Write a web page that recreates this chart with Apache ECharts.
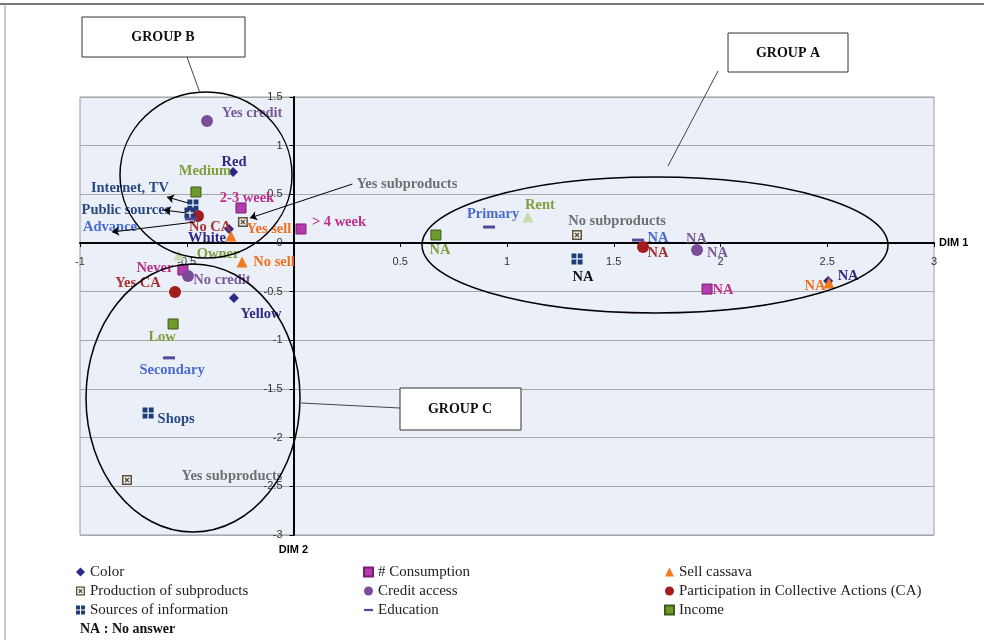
<!DOCTYPE html>
<html>
<head>
<meta charset="utf-8">
<title>MCA map</title>
<script src="https://cdn.jsdelivr.net/npm/echarts@6/dist/echarts.min.js"></script>
<style>
html,body{margin:0;padding:0;background:#fff;}
#main{width:984px;height:640px;}
</style>
</head>
<body>
<div id="main"></div>
<script>
// points: [DIM 1, DIM 2, label]
var colorPts       = [[-0.283, 0.73, 'Red'], [-0.302, 0.144, 'White'], [-0.279, -0.565, 'Yellow'], [2.504, -0.39, 'NA']];
var consumptionPts = [[-0.246, 0.36, '2-3 week'], [0.035, 0.144, '> 4 week'], [-0.518, -0.277, 'Never'], [1.937, -0.473, 'NA']];
var sellPts        = [[-0.293, 0.072, 'Yes sell'], [-0.241, -0.195, 'No sell'], [2.508, -0.41, 'NA']];
var subproductPts  = [[-0.237, 0.216, 'Yes subproducts'], [1.328, 0.082, 'No subproducts'], [-0.78, -2.435, 'Yes subproducts']];
var creditPts      = [[-0.405, 1.253, 'Yes credit'], [-0.494, -0.339, 'No credit'], [1.89, -0.072, 'NA']];
var caPts          = [[-0.447, 0.277, 'No CA'], [-0.555, -0.503, 'Yes CA'], [1.637, -0.041, 'NA']];
var sourcePts      = [[-0.471, 0.39, 'Internet, TV'], [-0.485, 0.308, 'Public sources'], [-0.681, -1.747, 'Shops'], [1.328, -0.164, 'NA']];
var educationPts   = [[0.916, 0.164, 'Primary'], [-0.583, -1.18, 'Secondary'], [1.614, 0.03, 'NA'], [-0.48, 0.247, 'Advance']];
var incomePts      = [[-0.457, 0.524, 'Medium'], [-0.564, -0.832, 'Low'], [0.667, 0.082, 'NA']];
var housingPts     = [[-0.536, -0.123, 'Owner'], [1.098, 0.267, 'Rent']];

// label offsets in px (label centre minus point)
var colorOff       = [[1, -10], [-22, 9], [27, 16], [20, -5]];
var consumptionOff = [[6, -10], [38, -7], [-28, -2], [16, 1]];
var sellOff        = [[38, -7], [32, 0], [-14, 3]];
var subproductOff  = [[164, -38], [40, -14], [105, -4]];
var creditOff      = [[45, -8], [34, 4], [10, -4]];
var caOff          = [[12, 11], [-37, -9], [15, 6]];
var sourceOff      = [[-63, -17], [-64, -3], [28, 6], [6, 18]];
var educationOff   = [[4, -13], [3, 12], [20, -2], [-81, 8]];
var incomeOff      = [[9, -21], [-11, 13], [4, 15]];
var housingOff     = [[39, -1], [12, -12]];

var SERIF = '"Liberation Serif", "Times New Roman", serif';
var SANS = '"Liberation Sans", Arial, sans-serif';
var LABEL_SIZE = 14.5;

var crossBox = 'path://M0,0L10,0L10,10L0,10Z M1.5,1.5L1.5,8.5L8.5,8.5L8.5,1.5Z M2.5,3.5L3.5,2.5L5,4L6.5,2.5L7.5,3.5L6,5L7.5,6.5L6.5,7.5L5,6L3.5,7.5L2.5,6.5L4,5Z';
var fourBox = 'path://M0,0H4.4V4.4H0Z M5.6,0H10V4.4H5.6Z M0,5.6H4.4V10H0Z M5.6,5.6H10V10H5.6Z';
var dash = 'path://M0,0H10V2.5H0Z';

function makeSeries(name, pts, offs, symbol, size, color, labelColor, border) {
    return {
        name: name,
        type: 'scatter',
        symbol: symbol,
        symbolSize: size,
        itemStyle: {color: color, borderColor: border || color, borderWidth: border ? 1 : 0, opacity: 1},
        label: {
            show: true,
            position: 'inside',
            formatter: '{b}',
            color: labelColor,
            fontFamily: SERIF,
            fontWeight: 'bold',
            fontSize: LABEL_SIZE
        },
        data: pts.map(function (p, i) {
            return {value: [p[0], p[1]], name: p[2], label: {offset: offs[i]}};
        }),
        z: 3
    };
}

function arrows(list) {
    return {
        silent: true,
        symbol: ['none', 'arrow'],
        symbolSize: 7,
        lineStyle: {color: '#000', width: 1, type: 'solid'},
        label: {show: false},
        data: list.map(function (a) {
            return [{coord: a[0]}, {coord: a[1]}];
        })
    };
}

window.onload = function () {
    var chart = echarts.init(document.getElementById('main'));

    var sColor = makeSeries('Color', colorPts, colorOff, 'diamond', 10, '#2b2a8a', '#2e2a80');
    var sCons = makeSeries('# Consumption', consumptionPts, consumptionOff, 'rect', 10, '#b53cad', '#c0308c', '#7a1f70');
    var sSell = makeSeries('Sell cassava', sellPts, sellOff, 'triangle', 11, '#f07a20', '#f07020');
    var sSub = makeSeries('Production of subproducts', subproductPts, subproductOff, crossBox, 10, '#5f5234', '#707070');
    var sCredit = makeSeries('Credit access', creditPts, creditOff, 'circle', 12, '#7b4c98', '#7a5a98');
    var sCA = makeSeries('Participation in Collective Actions (CA)', caPts, caOff, 'circle', 12, '#a51c1c', '#a83030');
    var sSrc = makeSeries('Sources of information', sourcePts, sourceOff, fourBox, 11, '#1f3c78', '#2a4a82');
    var sEdu = makeSeries('Education', educationPts, educationOff, dash, [12, 3], '#54489c', '#4a6ad0');
    var sInc = makeSeries('Income', incomePts, incomeOff, 'rect', 10, '#6e9a2e', '#80a040', '#3d5a18');
    var sHouse = makeSeries('Housing', housingPts, housingOff, 'triangle', 11, '#c8ddb0', '#80a040');

    // NA source label is black
    sSrc.data[3].label.color = '#111';
    // two NA tags around the credit NA point
    var naStyle = {lineHeight: 14, fontFamily: SERIF, fontWeight: 'bold', fontSize: LABEL_SIZE, color: '#7a5a98'};
    sCredit.data[2].label.formatter = '{a|NA}\n{b|NA}';
    sCredit.data[2].label.rich = {
        a: Object.assign({width: 42, align: 'left'}, naStyle),
        b: Object.assign({width: 42, align: 'right'}, naStyle)
    };

    sSub.markLine = arrows([[[0.276, 0.606], [-0.204, 0.257]]]);
    sSrc.markLine = arrows([[[-0.494, 0.411], [-0.593, 0.473]], [[-0.499, 0.308], [-0.607, 0.339]]]);
    sEdu.markLine = arrows([[[-0.461, 0.216], [-0.85, 0.113]]]);

    var legendBase = {
        orient: 'vertical',
        top: 564,
        padding: 0,
        itemWidth: 9,
        itemHeight: 9,
        itemGap: 3,
        selectedMode: false,
        textStyle: {fontFamily: SERIF, fontSize: 15, color: '#222', lineHeight: 16}
    };

    // grid: 854 x 438 px, the axes cross at (0, 0)
    var option = {
        animation: false,
        backgroundColor: '#fff',
        grid: {
            left: 80, top: 97, width: 854, height: 438,
            show: true, backgroundColor: '#eaeff8', borderColor: '#9a9a9a', borderWidth: 1
        },
        legend: [
            Object.assign({}, legendBase, {left: 76, data: ['Color', 'Production of subproducts', 'Sources of information']}),
            Object.assign({}, legendBase, {left: 363, data: ['# Consumption', 'Credit access', 'Education']}),
            Object.assign({}, legendBase, {left: 664, data: ['Sell cassava', 'Participation in Collective Actions (CA)', 'Income']})
        ],
        xAxis: {
            type: 'value', min: -1, max: 3, interval: 0.5,
            position: 'bottom', offset: -292,
            name: 'DIM 1', nameLocation: 'end', nameGap: 5,
            nameTextStyle: {fontFamily: SANS, fontWeight: 'bold', fontSize: 11, color: '#000'},
            axisLine: {onZero: false, lineStyle: {color: '#000', width: 2}},
            axisTick: {show: true, length: 4, lineStyle: {color: '#000'}},
            axisLabel: {
                fontFamily: SANS, fontSize: 11, color: '#333', margin: 13,
                formatter: function (v) { return v === 0 ? '' : v; }
            },
            splitLine: {show: false}
        },
        yAxis: {
            type: 'value', min: -3, max: 1.5, interval: 0.5,
            position: 'left', offset: -213.5,
            name: 'DIM 2', nameLocation: 'start', nameGap: 9,
            nameTextStyle: {fontFamily: SANS, fontWeight: 'bold', fontSize: 11, color: '#000'},
            axisLine: {onZero: false, lineStyle: {color: '#000', width: 2}},
            axisTick: {show: true, length: 4, lineStyle: {color: '#000'}},
            axisLabel: {fontFamily: SANS, fontSize: 11, color: '#333', margin: 11},
            splitLine: {show: true, lineStyle: {color: '#a8a8a8', width: 1}}
        },
        series: [sColor, sCons, sSell, sSub, sCredit, sCA, sSrc, sEdu, sInc, sHouse],
        graphic: [
            // figure frame
            {type: 'line', shape: {x1: 0, y1: 4, x2: 984, y2: 4}, style: {stroke: '#777', lineWidth: 2}},
            {type: 'line', shape: {x1: 5, y1: 4, x2: 5, y2: 640}, style: {stroke: '#999', lineWidth: 1}},
            // group circles
            {type: 'ellipse', z: 50, shape: {cx: 206, cy: 175, rx: 86, ry: 83}, style: {fill: 'none', stroke: '#000', lineWidth: 1.5}},
            {type: 'ellipse', z: 50, shape: {cx: 655, cy: 245, rx: 233, ry: 68}, style: {fill: 'none', stroke: '#000', lineWidth: 1.5}},
            {type: 'ellipse', z: 50, shape: {cx: 193, cy: 398, rx: 107, ry: 134}, style: {fill: 'none', stroke: '#000', lineWidth: 1.5}},
            // group boxes and connectors
            {type: 'line', z: 50, shape: {x1: 187, y1: 57, x2: 200, y2: 93}, style: {stroke: '#444', lineWidth: 1}},
            {type: 'line', z: 50, shape: {x1: 718, y1: 71, x2: 668, y2: 166}, style: {stroke: '#444', lineWidth: 1}},
            {type: 'line', z: 50, shape: {x1: 400, y1: 408, x2: 301, y2: 403}, style: {stroke: '#444', lineWidth: 1}},
            {type: 'rect', z: 50, shape: {x: 82, y: 17, width: 163, height: 40}, style: {fill: '#fff', stroke: '#333', lineWidth: 1}},
            {type: 'rect', z: 50, shape: {x: 728, y: 33, width: 120, height: 39}, style: {fill: '#fff', stroke: '#333', lineWidth: 1}},
            {type: 'rect', z: 50, shape: {x: 400, y: 388, width: 121, height: 42}, style: {fill: '#fff', stroke: '#333', lineWidth: 1}},
            {type: 'text', z: 51, x: 163, y: 37, style: {text: 'GROUP B', font: 'bold 14px ' + SERIF, fill: '#111', align: 'center', verticalAlign: 'middle'}},
            {type: 'text', z: 51, x: 788, y: 53, style: {text: 'GROUP A', font: 'bold 14px ' + SERIF, fill: '#111', align: 'center', verticalAlign: 'middle'}},
            {type: 'text', z: 51, x: 460, y: 409, style: {text: 'GROUP C', font: 'bold 14px ' + SERIF, fill: '#111', align: 'center', verticalAlign: 'middle'}},
            // footnote
            {type: 'text', x: 80, y: 622, style: {text: 'NA : No answer', font: 'bold 14px ' + SERIF, fill: '#111'}}
        ]
    };

    chart.setOption(option);
};
</script>
</body>
</html>
